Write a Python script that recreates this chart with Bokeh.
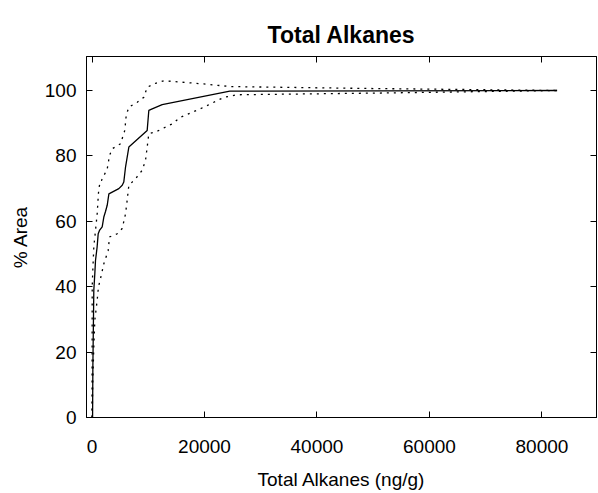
from bokeh.plotting import figure
from bokeh.models import LinearAxis, Range1d, FixedTicker
from bokeh.embed import file_html
from bokeh.resources import INLINE

# Cumulative % area vs total alkanes (ng/g)
mean_x = [100, 150, 320, 500, 620, 900, 1100, 1330, 1810, 2100, 2400, 2700, 3000, 4770, 5370, 5650, 5960, 6550, 9810, 10100, 10700, 12480, 24500, 82700]
mean_y = [0, 15, 38.9, 44, 48, 52, 56.2, 57.2, 58.3, 61.3, 63, 64.9, 68.4, 70, 71, 72, 76.6, 82.7, 87.8, 93.9, 94.4, 95.7, 99.8, 100]

upper_x = [0, 36, 140, 320, 620, 920, 1100, 1210, 1510, 1690, 2700, 3110, 3590, 5070, 5830, 6080, 6550, 8040, 9210, 9810, 11290, 12770, 19880, 24630, 50000, 82700]
upper_y = [0, 40, 45, 52.1, 57.2, 62.3, 67.4, 70, 72.5, 72.5, 76, 80.1, 82.2, 83.7, 87.8, 92.4, 94.9, 96.4, 97.9, 101, 102.2, 103, 102, 101.2, 100.6, 100]

lower_x = [30, 140, 320, 500, 920, 1150, 1510, 2100, 2880, 3110, 4480, 5370, 5960, 6250, 6550, 7730, 8920, 9510, 9810, 10100, 11290, 13070, 14260, 15730, 19880, 23430, 25800, 50000, 82700]
lower_y = [0, 11.4, 21.6, 29.8, 35.9, 40, 42.5, 47, 51.1, 55.2, 56.2, 57.8, 62.3, 66.4, 71, 73, 75.6, 78.6, 82.7, 86.8, 87.3, 88.8, 89.8, 91.8, 94.9, 97.9, 98.7, 99.2, 100]

x_ticks = [0, 20000, 40000, 60000, 80000]
y_ticks = [0, 20, 40, 60, 80, 100]

FONT = "Liberation Sans"

p = figure(width=597, height=492, output_backend="svg", toolbar_location=None,
           x_range=Range1d(-980, 89700), y_range=Range1d(0, 110.4),
           title="Total Alkanes",
           min_border_left=86, min_border_right=1, min_border_top=56, min_border_bottom=74)

p.title.align = "center"
p.title.text_font = FONT
p.title.text_font_size = "23px"
p.title.text_font_style = "bold"
p.title.text_color = "black"
p.title.standoff = 18

p.grid.visible = False
p.outline_line_color = "black"
p.outline_line_width = 1

for ax in p.xaxis + p.yaxis:
    ax.major_tick_in = 6
    ax.major_tick_out = 0
    ax.minor_tick_line_color = None
    ax.axis_line_color = "black"
    ax.major_tick_line_color = "black"
    ax.major_label_text_font = FONT
    ax.major_label_text_font_size = "19px"
    ax.major_label_text_color = "black"
    ax.axis_label_text_font = FONT
    ax.axis_label_text_font_size = "19px"
    ax.axis_label_text_font_style = "normal"
    ax.axis_label_text_color = "black"

p.xaxis.ticker = FixedTicker(ticks=x_ticks)
p.yaxis.ticker = FixedTicker(ticks=y_ticks)
p.xaxis.axis_label = "Total Alkanes (ng/g)"
p.yaxis.axis_label = "% Area"
p.xaxis.major_label_standoff = 22
p.xaxis.axis_label_standoff = 13
p.yaxis.major_label_standoff = 10
p.yaxis.axis_label_standoff = 11
p.xaxis.formatter.use_scientific = False

top = LinearAxis(ticker=FixedTicker(ticks=x_ticks),
                 major_label_overrides={t: "" for t in x_ticks})
right = LinearAxis(ticker=FixedTicker(ticks=y_ticks),
                   major_label_overrides={t: "" for t in y_ticks})
for ax in (top, right):
    ax.major_tick_in = 6
    ax.major_tick_out = 0
    ax.minor_tick_line_color = None
    ax.axis_line_color = "black"
    ax.major_tick_line_color = "black"
    ax.major_label_text_font_size = "1px"
    ax.major_label_standoff = 0
p.add_layout(top, "above")
p.add_layout(right, "right")

p.line(mean_x, mean_y, line_color="black", line_width=1.3)
p.line(upper_x, upper_y, line_color="black", line_width=1.3, line_dash="2 5")
p.line(lower_x, lower_y, line_color="black", line_width=1.3, line_dash="2 5")

open("out.html", "w").write(file_html(p, INLINE))
